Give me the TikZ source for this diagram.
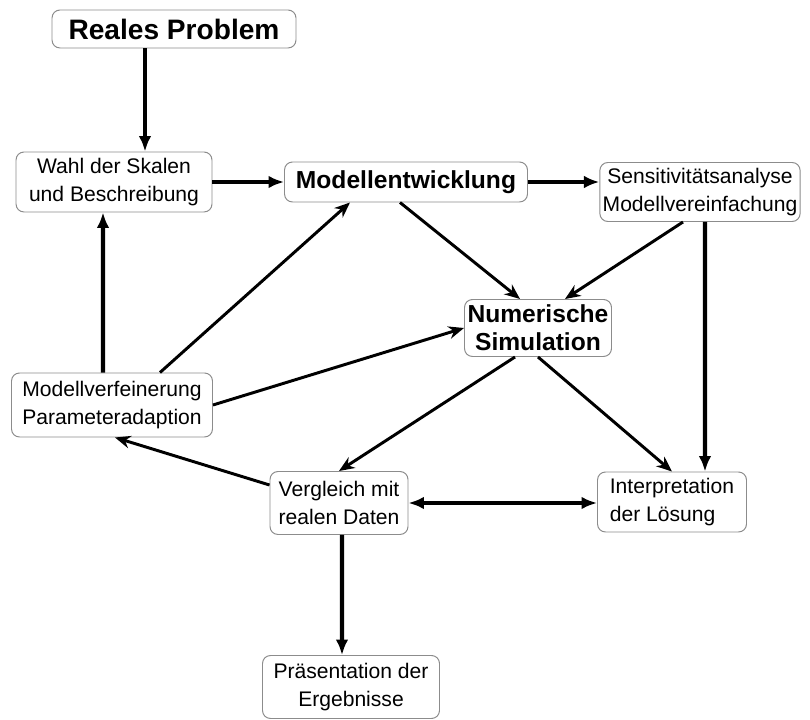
\documentclass[tikz,border=0pt]{standalone}
\usepackage{fontspec}
\setmainfont{Liberation Sans}
\usetikzlibrary{arrows.meta}

\tikzset{
  box/.style={draw=gray!90, line width=0.7pt, rounded corners=0.2cm, fill=white,
    align=center, inner sep=2pt, font=\fontsize{15}{20}\selectfont},
  boldbox/.style={box, font=\fontsize{17.5}{20}\selectfont\bfseries},
  mainarrow/.style={>={Latex[length=11pt,width=9pt]}, ->, line width=3.1pt},
  sidearrow/.style={>={Stealth[length=11pt,width=9pt]}, ->, line width=2.1pt},
}

\begin{document}
\begin{tikzpicture}
    \useasboundingbox (0,0) rectangle (20.25,18);

    % Boxes
    \node[boldbox, font=\fontsize{20}{23}\selectfont\bfseries,
          minimum width=6.1cm, minimum height=0.95cm] (reales) at (4.35,17.275) {Reales Problem};
    \node[box, minimum width=4.9cm, minimum height=1.5cm] (wahl) at (2.85,13.45)
        {Wahl der Skalen\\und Beschreibung};
    \node[boldbox, minimum width=6.075cm, minimum height=1cm] (modell) at (10.15,13.45)
        {Modellentwicklung};
    \node[box, minimum width=5cm, minimum height=1.475cm] (sens) at (17.5,13.2)
        {Sensitivitätsanalyse\\Modellvereinfachung};
    \node[boldbox, minimum width=3.675cm, minimum height=1.425cm] (num) at (13.45,9.8)
        {Numerische\\Simulation};
    \node[box, minimum width=5.025cm, minimum height=1.6cm] (verf) at (2.8,7.875)
        {Modellverfeinerung\\Parameteradaption};
    \node[box, minimum width=3.45cm, minimum height=1.575cm] (verg) at (8.475,5.425)
        {Vergleich mit\\realen Daten};
    \node[box, align=left, minimum width=3.725cm, minimum height=1.5cm] (interp) at (16.8,5.45)
        {Interpretation\\der Lösung};
    \node[box, minimum width=4.425cm, minimum height=1.575cm] (praes) at (8.775,0.825)
        {Präsentation der\\Ergebnisse};

    % Main flow
    \draw[mainarrow] ([xshift=-0.725cm]reales.south) -- ([xshift=0.775cm]wahl.north);
    \draw[mainarrow] (wahl.east) -- (modell.west);
    \draw[mainarrow] (modell.east) -- (modell.east -| sens.west);
    \draw[mainarrow] ([xshift=0.125cm]sens.south) -- ([xshift=0.825cm]interp.north);
    \draw[mainarrow] ([xshift=-0.225cm]verf.north) -- ([xshift=-0.275cm]wahl.south);
    \draw[mainarrow, <->] (verg.east) -- (verg.east -| interp.west);
    \draw[mainarrow] ([xshift=0.075cm]verg.south) -- ([xshift=-0.225cm]praes.north);

    % Diagonal links
    \draw[sidearrow] ([xshift=-0.15cm]modell.south) -- ([xshift=-0.45cm]num.north);
    \draw[sidearrow] ([xshift=-0.425cm]sens.south) -- ([xshift=0.675cm]num.north);
    \draw[sidearrow] ([xshift=1.2cm]verf.north) -- ([xshift=-1.4cm]modell.south);
    \draw[sidearrow] (verf.east) -- (num.west);
    \draw[sidearrow] ([xshift=-0.575cm]num.south) -- (verg.north);
    \draw[sidearrow] (num.south) -- (interp.north);
    \draw[sidearrow] ([yshift=0.45cm]verg.west) -- ([xshift=0.075cm]verf.south);
\end{tikzpicture}
\end{document}
